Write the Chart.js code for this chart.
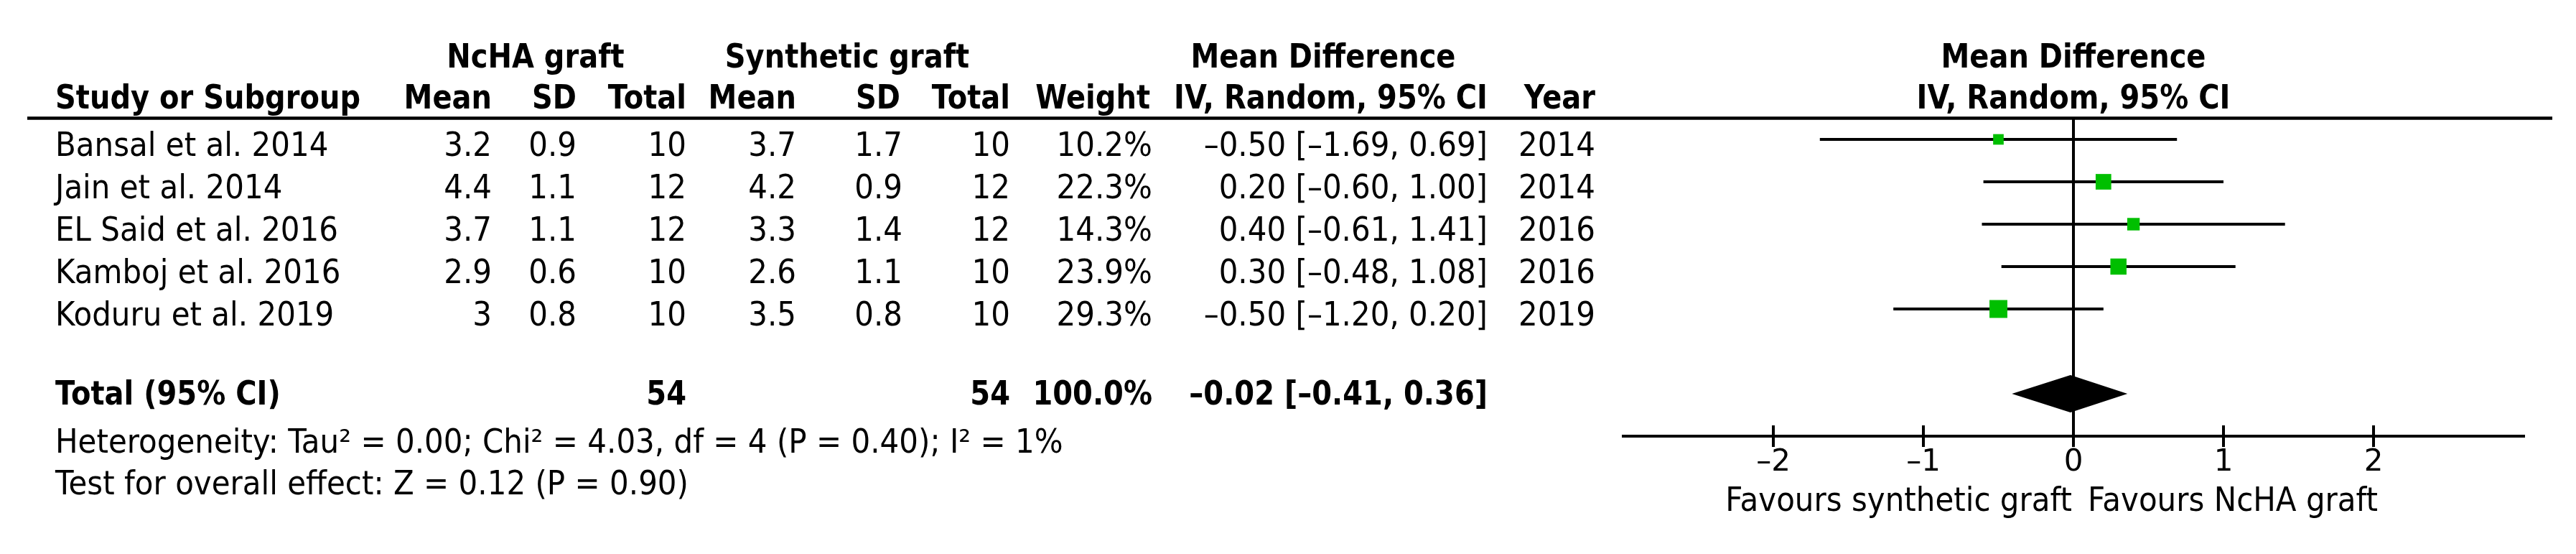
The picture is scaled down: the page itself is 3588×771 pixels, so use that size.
<!DOCTYPE html>
<html>
<head>
<meta charset="utf-8">
<script src="https://cdn.jsdelivr.net/npm/chart.js@4"></script>
<style>
  html, body { margin: 0; padding: 0; background: #fff; }
  canvas { display: block; }
</style>
</head>
<body>
<canvas id="c" width="3588" height="771"></canvas>
<script>
// ---------- data ----------
const studies   = ['Bansal et al. 2014', 'Jain et al. 2014', 'EL Said et al. 2016', 'Kamboj et al. 2016', 'Koduru et al. 2019'];
const ncMean    = [3.2, 4.4, 3.7, 2.9, 3];
const ncSD      = [0.9, 1.1, 1.1, 0.6, 0.8];
const ncTotal   = [10, 12, 12, 10, 10];
const synMean   = [3.7, 4.2, 3.3, 2.6, 3.5];
const synSD     = [1.7, 0.9, 1.4, 1.1, 0.8];
const synTotal  = [10, 12, 12, 10, 10];
const weights   = [10.2, 22.3, 14.3, 23.9, 29.3];
const md        = [-0.50, 0.20, 0.40, 0.30, -0.50];
const ciLow     = [-1.69, -0.60, -0.61, -0.48, -1.20];
const ciHigh    = [0.69, 1.00, 1.41, 1.08, 0.20];
const years     = [2014, 2014, 2016, 2016, 2019];
const totalNc   = 54;
const totalSyn  = 54;
const totalWeight = '100.0%';
const totalMD   = -0.02;
const totalLow  = -0.41;
const totalHigh = 0.36;
const heterogeneityText = 'Heterogeneity: Tau\u00B2 = 0.00; Chi\u00B2 = 4.03, df = 4 (P = 0.40); I\u00B2 = 1%';
const overallText = 'Test for overall effect: Z = 0.12 (P = 0.90)';
const xTicks    = [-2, -1, 0, 1, 2];
const favoursLeft  = 'Favours synthetic graft';
const favoursRight = 'Favours NcHA graft';

// ---------- helpers ----------
const dash = s => String(s).replace(/-/g, '\u2013');
const f2 = v => dash(v.toFixed(2));
const ciStr = (m, l, h) => f2(m) + ' [' + f2(l) + ', ' + f2(h) + ']';
const FONT = '"DejaVu Sans", Verdana, sans-serif';

function txt(ctx, s, x, y, align, bold) {
  ctx.save();
  ctx.fillStyle = '#000';
  ctx.font = (bold ? 'bold 40px ' : '42px ') + FONT;
  ctx.textAlign = align;
  ctx.textBaseline = 'alphabetic';
  ctx.translate(x, y);
  ctx.scale(1, bold ? 1.15 : 1.08);
  ctx.fillText(s, 0, 0);
  ctx.restore();
}

// layout constants (pixels)
const COL = { study: 77, mean1: 685, sd1: 803, tot1: 956, mean2: 1109, sd2: 1257, tot2: 1407, wt: 1605, ci: 2072, year: 2222 };
const GROUP = { nc: 746, syn: 1180, md: 1843 };
const TEXT_OFF = 23;

const forestDecor = {
  id: 'forestDecor',
  beforeDraw(chart) {
    const ctx = chart.ctx;
    ctx.save();
    ctx.fillStyle = '#fff';
    ctx.fillRect(0, 0, chart.width, chart.height);
    ctx.restore();
  },
  beforeDatasetsDraw(chart) {
    const { ctx, scales: { x, y } } = chart;
    ctx.save();
    ctx.strokeStyle = '#000';
    // header rule
    ctx.lineWidth = 4.5;
    ctx.beginPath();
    ctx.moveTo(38, y.getPixelForValue(0.5));
    ctx.lineTo(3555, y.getPixelForValue(0.5));
    ctx.stroke();
    // line of no effect
    ctx.lineWidth = 4;
    ctx.beginPath();
    ctx.moveTo(x.getPixelForValue(0), y.getPixelForValue(0.5));
    ctx.lineTo(x.getPixelForValue(0), y.getPixelForValue(8));
    ctx.stroke();
    ctx.restore();
  },
  afterDatasetsDraw(chart) {
    const { ctx, scales: { x, y } } = chart;
    ctx.save();
    // pooled diamond
    const yc = y.getPixelForValue(7);
    const h = y.getPixelForValue(7.44) - yc;
    ctx.fillStyle = '#000';
    ctx.beginPath();
    ctx.moveTo(x.getPixelForValue(totalLow), yc);
    ctx.lineTo(x.getPixelForValue(totalMD), yc - h);
    ctx.lineTo(x.getPixelForValue(totalHigh), yc);
    ctx.lineTo(x.getPixelForValue(totalMD), yc + h);
    ctx.closePath();
    ctx.fill();
    ctx.restore();
  },
  afterDraw(chart) {
    const { ctx, scales: { x, y } } = chart;
    // upper halves of tick marks
    ctx.save();
    ctx.strokeStyle = '#000';
    ctx.lineWidth = 4;
    const ay = y.getPixelForValue(8);
    x.ticks.forEach(t => {
      const px = x.getPixelForValue(t.value);
      ctx.beginPath();
      ctx.moveTo(px, ay - 15);
      ctx.lineTo(px, ay);
      ctx.stroke();
    });
    ctx.restore();

    const rowY = r => y.getPixelForValue(r) + TEXT_OFF;
    // header rows
    const h1 = rowY(-1.08), h2 = rowY(-0.12);
    txt(ctx, 'NcHA graft', GROUP.nc, h1, 'center', true);
    txt(ctx, 'Synthetic graft', GROUP.syn, h1, 'center', true);
    txt(ctx, 'Mean Difference', GROUP.md, h1, 'center', true);
    const plotMid = (x.left + x.right) / 2;
    txt(ctx, 'Mean Difference', plotMid, h1, 'center', true);
    txt(ctx, 'Study or Subgroup', COL.study, h2, 'left', true);
    txt(ctx, 'Mean', COL.mean1, h2, 'right', true);
    txt(ctx, 'SD', COL.sd1, h2, 'right', true);
    txt(ctx, 'Total', COL.tot1, h2, 'right', true);
    txt(ctx, 'Mean', COL.mean2, h2, 'right', true);
    txt(ctx, 'SD', COL.sd2 - 3, h2, 'right', true);
    txt(ctx, 'Total', COL.tot2, h2, 'right', true);
    txt(ctx, 'Weight', COL.wt - 3, h2, 'right', true);
    txt(ctx, 'IV, Random, 95% CI', COL.ci, h2, 'right', true);
    txt(ctx, 'Year', COL.year, h2, 'right', true);
    txt(ctx, 'IV, Random, 95% CI', plotMid, h2, 'center', true);

    // study rows
    studies.forEach((s, i) => {
      const yy = rowY(i + 1);
      txt(ctx, s, COL.study, yy, 'left', false);
      txt(ctx, String(ncMean[i]), COL.mean1, yy, 'right', false);
      txt(ctx, String(ncSD[i]), COL.sd1, yy, 'right', false);
      txt(ctx, String(ncTotal[i]), COL.tot1, yy, 'right', false);
      txt(ctx, String(synMean[i]), COL.mean2, yy, 'right', false);
      txt(ctx, String(synSD[i]), COL.sd2, yy, 'right', false);
      txt(ctx, String(synTotal[i]), COL.tot2, yy, 'right', false);
      txt(ctx, weights[i].toFixed(1) + '%', COL.wt, yy, 'right', false);
      txt(ctx, ciStr(md[i], ciLow[i], ciHigh[i]), COL.ci, yy, 'right', false);
      txt(ctx, String(years[i]), COL.year, yy, 'right', false);
    });

    // total row
    const ty = rowY(6.86);
    txt(ctx, 'Total (95% CI)', COL.study, ty, 'left', true);
    txt(ctx, String(totalNc), COL.tot1, ty, 'right', true);
    txt(ctx, String(totalSyn), COL.tot2, ty, 'right', true);
    txt(ctx, totalWeight, COL.wt, ty, 'right', true);
    txt(ctx, ciStr(totalMD, totalLow, totalHigh), COL.ci, ty, 'right', true);

    // footnotes
    txt(ctx, heterogeneityText, COL.study, rowY(8), 'left', false);
    txt(ctx, overallText, COL.study, rowY(8.98), 'left', false);

    // favours labels
    const zx = x.getPixelForValue(0);
    const fy = y.getPixelForValue(8) + 104;
    txt(ctx, favoursLeft, zx - 2, fy, 'right', false);
    txt(ctx, favoursRight, zx + 20, fy, 'left', false);
  }
};

// ---------- datasets ----------
const datasets = [];
datasets.push({
  type: 'scatter',
  label: 'Study estimates',
  data: md.map((m, i) => ({ x: m, y: i + 1 })),
  pointStyle: 'rect',
  pointRadius: weights.map(w => 4.6 * Math.sqrt(w) / Math.SQRT2),
  pointHoverRadius: weights.map(w => 4.6 * Math.sqrt(w) / Math.SQRT2),
  backgroundColor: '#00bf00',
  borderWidth: 0,
  order: 0
});
studies.forEach((s, i) => {
  datasets.push({
    type: 'line',
    label: s + ' CI',
    data: [{ x: ciLow[i], y: i + 1 }, { x: ciHigh[i], y: i + 1 }],
    borderColor: '#000',
    borderWidth: 4,
    pointRadius: 0,
    fill: false,
    order: 1
  });
});

Chart.defaults.font.family = FONT;
new Chart(document.getElementById('c'), {
  type: 'scatter',
  data: { datasets },
  options: {
    responsive: false,
    animation: false,
    devicePixelRatio: 1,
    layout: { padding: { left: 2261, right: 73, top: 135, bottom: 0 } },
    plugins: { legend: { display: false }, tooltip: { enabled: false } },
    scales: {
      x: {
        type: 'linear',
        min: -3, max: 3,
        afterBuildTicks: s => { s.ticks = xTicks.map(v => ({ value: v })); },
        afterFit: s => { s.height = 164; },
        grid: { display: true, drawOnChartArea: false, drawTicks: true, tickLength: 15, lineWidth: 4, color: '#000' },
        border: { display: true, color: '#000', width: 4 },
        ticks: { color: '#000', font: { size: 42, family: FONT }, padding: -3, maxRotation: 0, callback: v => dash(v) }
      },
      y: {
        type: 'linear',
        min: 0, max: 8,
        reverse: true,
        display: false
      }
    }
  },
  plugins: [forestDecor]
});
</script>
</body>
</html>
